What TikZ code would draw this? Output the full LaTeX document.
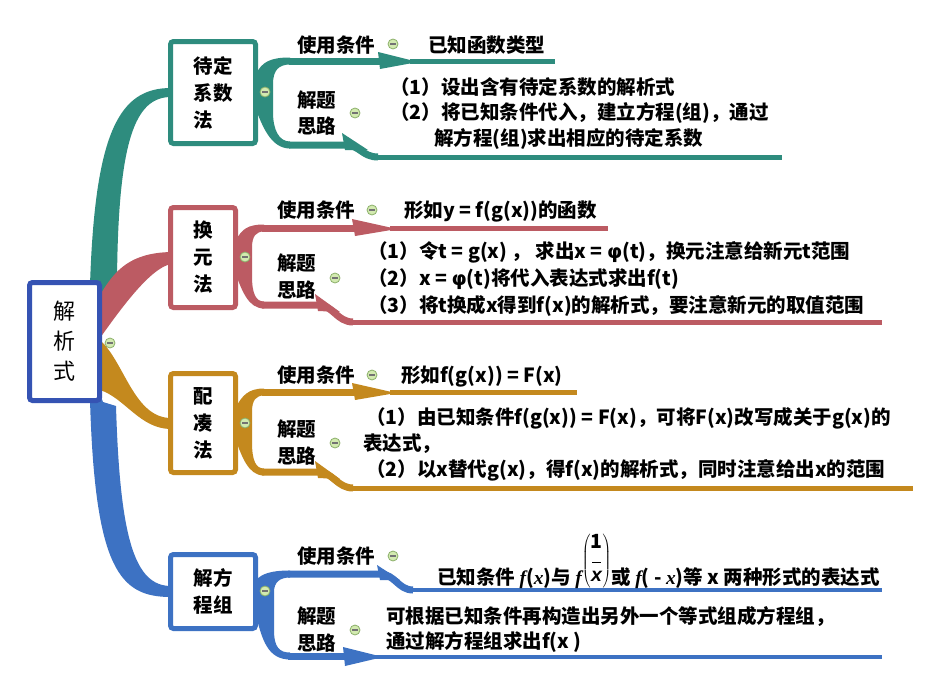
\documentclass[tikz,border=0pt]{standalone}
\usepackage{fontspec}
\newfontfamily\cjk{Noto Sans CJK SC}
\newfontfamily\dv{DejaVu Sans}
\newfontfamily\itf{Liberation Serif}
\newfontfamily\its{Liberation Sans}
\definecolor{teal1}{HTML}{2E8C7E}
\definecolor{rose}{HTML}{BC5B63}
\definecolor{gold}{HTML}{C4891E}
\definecolor{blu}{HTML}{3D72C3}
\definecolor{rootb}{HTML}{3553B3}
\definecolor{icf}{HTML}{D3EAB0}
\definecolor{icd}{HTML}{8BB06A}
\newcommand{\myph}{{\dv\bfseries φ}}
\newcommand{\myit}[1]{{\itf\bfseries\itshape #1}}
\tikzset{
  lbl/.style={font=\cjk\bfseries\fontsize{19.5}{19.5}\selectfont, anchor=base west, inner sep=0pt},
  bx/.style={draw=#1, line width=5pt, rounded corners=3pt, fill=white, align=left, inner sep=0pt,
             font=\cjk\bfseries\fontsize{19.5}{27}\selectfont},
  ic/.style={circle, minimum size=10pt, inner sep=0pt, fill=icf, draw=icd, line width=0.8pt,
             path picture={\draw[line width=1.3pt, black!55]
               ([xshift=-2.6pt]path picture bounding box.center) -- ([xshift=2.6pt]path picture bounding box.center);}},
  thick line/.style={line width=7pt},
  thin line/.style={line width=4.5pt},
}
\begin{document}
\begin{tikzpicture}[x=1pt,y=-1pt]
\useasboundingbox (0,0) rectangle (942,688);
\fill[white] (0,0) rectangle (942,688);

% ---------- root connectors (tapered) ----------
\fill[teal1] (90,300) -- (90,285) .. controls (95,130) and (120,88) .. (171,88)
  -- (171,97) .. controls (135,97) and (118,140) .. (117,282) -- (103,300) -- cycle;
\fill[rose] (95,300) -- (100,295) .. controls (115,270) and (130,253) .. (171,252)
  -- (171,264) .. controls (150,268) and (120,310) .. (100,338) -- cycle;
\fill[gold] (95,350) -- (102,342) .. controls (125,365) and (135,418) .. (171,418)
  -- (171,429) .. controls (140,429) and (125,398) .. (100,390) -- cycle;
\fill[blu] (95,380) -- (90,400) .. controls (95,570) and (120,597) .. (171,597)
  -- (171,586) .. controls (135,586) and (120,540) .. (116,406) -- (103,402) -- cycle;

% ---------- branch 1 (teal) ----------
\fill[teal1] (256,74) .. controls (262,62) and (270,57.5) .. (290,57.5) -- (290,64.5)
  .. controls (279,64.5) and (273,70) .. (273,84) -- (273,112)
  .. controls (273,130) and (279,141.5) .. (290,141.5) -- (290,148.5)
  .. controls (270,148.5) and (262,124) .. (256,110) -- cycle;
\draw[teal1, thick line] (289,61) -- (382,61);
\fill[teal1] (378,52) -- (418,62) -- (380,69) -- cycle;
\draw[teal1, thin line] (410,61.5) -- (555,61.5);
\draw[teal1, thick line] (289,145) -- (345,145) .. controls (360,145) and (362,157) .. (378,157);
\fill[teal1] (342,133) -- (368,150) -- (345,150) -- cycle;
\draw[teal1, line width=5pt] (376,157) -- (782,157);

% ---------- branch 2 (rose) ----------
\fill[rose] (236,240) .. controls (242,229) and (248,224.5) .. (264,224.5) -- (264,231.5)
  .. controls (256,231.5) and (252,236) .. (252,248) -- (252,276)
  .. controls (252,294) and (256,301.5) .. (264,301.5) -- (264,308.5)
  .. controls (248,308.5) and (242,290) .. (236,275) -- cycle;
\draw[rose, thick line] (262,228) -- (355,228);
\fill[rose] (352,219) -- (397,229) -- (355,236) -- cycle;
\draw[rose, thin line] (390,228.5) -- (608,228.5);
\draw[rose, thick line] (262,305) -- (318,305) .. controls (333,305) and (337,322) .. (353,322);
\fill[rose] (315,294) -- (340,312) -- (318,311) -- cycle;
\draw[rose, line width=5pt] (350,322) -- (882,322);

% ---------- branch 3 (gold) ----------
\fill[gold] (236,407) .. controls (242,396) and (248,388.5) .. (264,388.5) -- (264,395.5)
  .. controls (256,395.5) and (252,400) .. (252,412) -- (252,442)
  .. controls (252,461) and (256,468.5) .. (264,468.5) -- (264,475.5)
  .. controls (248,475.5) and (242,456) .. (236,441) -- cycle;
\draw[gold, thick line] (262,392) -- (355,392);
\fill[gold] (352,383) -- (396,393) -- (355,400) -- cycle;
\draw[gold, thin line] (390,392.5) -- (577,392.5);
\draw[gold, thick line] (262,472) -- (318,472) .. controls (333,472) and (337,488) .. (353,488);
\fill[gold] (315,461) -- (340,479) -- (318,478) -- cycle;
\draw[gold, line width=5pt] (350,488) -- (913,488);

% ---------- branch 4 (blue) ----------
\fill[blu] (256,580) .. controls (262,574) and (270,570.5) .. (290,570.5) -- (290,577.5)
  .. controls (280,577.5) and (274,582) .. (274,592) -- (274,630)
  .. controls (274,648) and (280,652.5) .. (290,652.5) -- (290,659.5)
  .. controls (268,659.5) and (262,640) .. (256,615) -- cycle;
\draw[blu, thick line] (288,574) -- (380,574) .. controls (395,574) and (398,590) .. (413,590);
\fill[blu] (377,565) -- (400,580) -- (380,580) -- cycle;
\draw[blu, thin line] (410,590) -- (882,590);
\draw[blu, thick line] (288,656) -- (345,656);
\fill[blu] (343,647) -- (383,657) -- (345,666) -- cycle;
\draw[blu, thin line] (375,657) -- (882,657);

% ---------- boxes ----------
\node[bx=rootb, font=\cjk\fontsize{22}{30}\selectfont, minimum width=70pt, minimum height=118pt]
  (root) at (64.5,341.5) {解\\析\\式};
\node[bx=teal1, minimum width=85pt, minimum height=102pt] (b1) at (213,92.5) {待定\\系数\\法};
\node[bx=rose, minimum width=65pt, minimum height=100pt] (b2) at (203,257.5) {换\\元\\法};
\node[bx=gold, minimum width=65pt, minimum height=99pt] (b3) at (203,423) {配\\凑\\法};
\node[bx=blu, minimum width=85pt, minimum height=74pt] (b4) at (213,591.5) {解方\\程组};

% ---------- branch 1 text ----------
\node[lbl] (c1) at (297,52) {使用条件};
\node[lbl] (v1) at (428,52) {已知函数类型};
\node[lbl] (s1a) at (297,107) {解题};
\node[lbl] (s1b) at (297,133) {思路};
\node[lbl] (t1a) at (390,94) {（1）设出含有待定系数的解析式};
\node[lbl] (t1b) at (390,119) {（2）将已知条件代入，建立方程(组)，通过};
\node[lbl] (t1c) at (434,145) {解方程(组)求出相应的待定系数};

% ---------- branch 2 text ----------
\node[lbl] (c2) at (277,217) {使用条件};
\node[lbl] (v2) at (404,217) {形如y = f(g(x))的函数};
\node[lbl] (s2a) at (277,270) {解题};
\node[lbl] (s2b) at (277,297) {思路};
\node[lbl] (t2a) at (368,258) {（1）令t = g(x) ， 求出x = \myph(t)，换元注意给新元t范围};
\node[lbl] (t2b) at (368,285) {（2）x = \myph(t)将代入表达式求出f(t)};
\node[lbl] (t2c) at (368,312) {（3）将t换成x得到f(x)的解析式，要注意新元的取值范围};

% ---------- branch 3 text ----------
\node[lbl] (c3) at (277,382) {使用条件};
\node[lbl] (v3) at (401,382) {形如f(g(x)) = F(x)};
\node[lbl] (s3a) at (277,436) {解题};
\node[lbl] (s3b) at (277,463) {思路};
\node[lbl] (t3a) at (366,424) {（1）由已知条件f(g(x)) = F(x)，可将F(x)改写成关于g(x)的};
\node[lbl] (t3b) at (363,450) {表达式，};
\node[lbl] (t3c) at (366,476) {（2）以x替代g(x)，得f(x)的解析式，同时注意给出x的范围};

% ---------- branch 4 text ----------
\node[lbl] (c4) at (297,563) {使用条件};
\node[lbl] (v4) at (437,584) {已知条件 \myit{f}(\myit{x})与 \myit{f}\raisebox{18pt}{$\left(\begin{array}{@{}c@{}}\mbox{\bfseries 1}\\[-5pt]\rule{9pt}{0.6pt}\\[-1pt]\mbox{\its\itshape x}\end{array}\right)$}或 \myit{f}( - \myit{x})等 x 两种形式的表达式};
\node[lbl] (s4a) at (297,623) {解题};
\node[lbl] (s4b) at (297,650) {思路};
\node[lbl] (t4a) at (386,623) {可根据已知条件再构造出另外一个等式组成方程组，};
\node[lbl] (t4b) at (386,648) {通过解方程组求出f(x )};

% ---------- collapse icons ----------
\node[ic] (i0) at (110,343) {};
\node[ic] (i1) at (265,92) {};
\node[ic] (i1a) at (393,44) {};
\node[ic] (i1b) at (355,113) {};
\node[ic] (i2) at (245,257) {};
\node[ic] (i2a) at (372,210) {};
\node[ic] (i2b) at (335,278) {};
\node[ic] (i3) at (245,423) {};
\node[ic] (i3a) at (372,375) {};
\node[ic] (i3b) at (335,443) {};
\node[ic] (i4) at (265,591) {};
\node[ic] (i4a) at (393,556) {};
\node[ic] (i4b) at (355,630) {};
\end{tikzpicture}
\end{document}
